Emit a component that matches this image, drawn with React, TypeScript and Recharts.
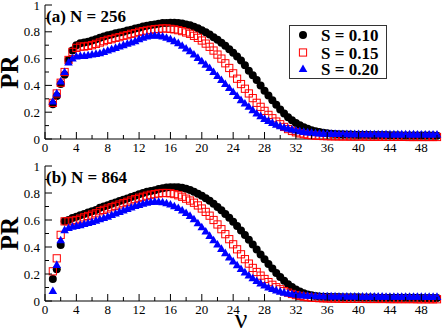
import React from 'react';
import { ScatterChart, Scatter, XAxis, YAxis, Legend } from 'recharts';

// ν values (x positions of the points)
const nu = [
  1, 1.5, 2, 2.5, 3, 3.5, 4, 4.5, 5, 5.5, 6, 6.5, 7, 7.5, 8, 8.5, 9, 9.5, 10, 10.5,
  11, 11.5, 12, 12.5, 13, 13.5, 14, 14.5, 15, 15.5, 16, 16.5, 17, 17.5, 18, 18.5, 19, 19.5, 20, 20.5,
  21, 21.5, 22, 22.5, 23, 23.5, 24, 24.5, 25, 25.5, 26, 26.5, 27, 27.5, 28, 28.5, 29, 29.5, 30, 30.5,
  31, 31.5, 32, 32.5, 33, 33.5, 34, 34.5, 35, 35.5, 36, 36.5, 37, 37.5, 38, 38.5, 39, 39.5, 40, 40.5,
  41, 41.5, 42, 42.5, 43, 43.5, 44, 44.5, 45, 45.5, 46, 46.5, 47, 47.5, 48, 48.5, 49, 49.5, 50,
];

// Panel (a) N = 256
const a_S010 = [
  0.26, 0.32, 0.41, 0.48, 0.59, 0.66, 0.70, 0.715,
  0.72, 0.725, 0.735, 0.745, 0.755, 0.765, 0.775, 0.78,
  0.79, 0.795, 0.80, 0.81, 0.815, 0.825, 0.83, 0.84,
  0.845, 0.85, 0.855, 0.86, 0.865, 0.865, 0.868, 0.868,
  0.866, 0.862, 0.855, 0.848, 0.838, 0.826, 0.812, 0.797,
  0.78, 0.76, 0.74, 0.718, 0.695, 0.67, 0.643, 0.615,
  0.585, 0.55, 0.51, 0.475, 0.44, 0.40, 0.36, 0.325,
  0.29, 0.255, 0.22, 0.19, 0.163, 0.14, 0.12, 0.102,
  0.088, 0.076, 0.066, 0.058,
  0.052, 0.047, 0.043, 0.040, 0.038, 0.036, 0.035, 0.034, 0.033, 0.032, 0.032, 0.031, 0.031, 0.030, 0.030, 0.029,
  0.029, 0.029, 0.028, 0.028, 0.028, 0.027, 0.027, 0.027, 0.027, 0.026, 0.026, 0.026, 0.026, 0.026, 0.025,
];
const a_S015 = [
  0.27, 0.34, 0.42, 0.50, 0.59, 0.65, 0.68, 0.69,
  0.69, 0.695, 0.70, 0.71, 0.72, 0.73, 0.74, 0.745,
  0.755, 0.76, 0.77, 0.775, 0.785, 0.79, 0.80, 0.805,
  0.81, 0.815, 0.82, 0.822, 0.825, 0.825, 0.822, 0.818,
  0.812, 0.805, 0.795, 0.785, 0.77, 0.755, 0.735, 0.712,
  0.688, 0.66, 0.63, 0.60, 0.565, 0.53, 0.49, 0.45,
  0.41, 0.375, 0.34, 0.305, 0.27, 0.24, 0.21, 0.18,
  0.155, 0.13, 0.11, 0.09, 0.074, 0.06, 0.05, 0.042,
  0.036, 0.031, 0.028, 0.025,
  0.023, 0.022, 0.021, 0.020, 0.020, 0.019, 0.019, 0.019, 0.018, 0.018, 0.018, 0.018, 0.017, 0.017, 0.017, 0.017,
  0.017, 0.016, 0.016, 0.016, 0.016, 0.016, 0.016, 0.015, 0.015, 0.015, 0.015, 0.015, 0.015, 0.015, 0.015,
];
const a_S020 = [
  0.28, 0.34, 0.43, 0.50, 0.57, 0.60, 0.615, 0.62,
  0.62, 0.625, 0.63, 0.635, 0.64, 0.65, 0.66, 0.67,
  0.68, 0.69, 0.70, 0.71, 0.72, 0.73, 0.745, 0.755,
  0.765, 0.77, 0.772, 0.77, 0.765, 0.755, 0.745, 0.73,
  0.715, 0.695, 0.675, 0.655, 0.63, 0.605, 0.58, 0.555,
  0.53, 0.50, 0.47, 0.44, 0.41, 0.38, 0.35, 0.32,
  0.29, 0.265, 0.24, 0.215, 0.19, 0.17, 0.15, 0.135,
  0.12, 0.107, 0.095, 0.085, 0.077, 0.07, 0.063, 0.058,
  0.053, 0.049, 0.046, 0.043,
  0.041, 0.040, 0.039, 0.038, 0.038, 0.037, 0.037, 0.036, 0.036, 0.036, 0.036, 0.035, 0.035, 0.035, 0.035, 0.035,
  0.035, 0.034, 0.034, 0.034, 0.034, 0.034, 0.034, 0.034, 0.034, 0.033, 0.033, 0.033, 0.033, 0.033, 0.033,
];

// Panel (b) N = 864
const b_S010 = [
  0.163, 0.235, 0.415, 0.59, 0.60, 0.615, 0.625, 0.635,
  0.645, 0.655, 0.665, 0.675, 0.69, 0.70, 0.71, 0.72,
  0.73, 0.74, 0.75, 0.76, 0.77, 0.78, 0.79, 0.80,
  0.81, 0.815, 0.82, 0.83, 0.835, 0.84, 0.842, 0.843,
  0.842, 0.838, 0.832, 0.822, 0.81, 0.795, 0.78, 0.762,
  0.742, 0.72, 0.697, 0.672, 0.645, 0.617, 0.587, 0.555,
  0.522, 0.488, 0.453, 0.418, 0.382, 0.345, 0.31, 0.275,
  0.24, 0.207, 0.177, 0.15, 0.125, 0.104, 0.085, 0.07,
  0.058, 0.049, 0.042, 0.037,
  0.034, 0.032, 0.031, 0.030, 0.029, 0.029, 0.028, 0.028, 0.027, 0.027, 0.027, 0.026, 0.026, 0.026, 0.026, 0.025,
  0.025, 0.025, 0.025, 0.025, 0.024, 0.024, 0.024, 0.024, 0.024, 0.024, 0.023, 0.023, 0.023, 0.023, 0.023,
];
const b_S015 = [
  0.22, 0.316, 0.49, 0.59, 0.59, 0.595, 0.60, 0.61,
  0.62, 0.63, 0.64, 0.65, 0.665, 0.675, 0.685, 0.695,
  0.705, 0.715, 0.725, 0.735, 0.745, 0.755, 0.765, 0.772,
  0.78, 0.787, 0.792, 0.797, 0.80, 0.80, 0.798, 0.792,
  0.783, 0.772, 0.758, 0.744, 0.728, 0.708, 0.685, 0.66,
  0.632, 0.60, 0.567, 0.532, 0.495, 0.458, 0.42, 0.383,
  0.346, 0.31, 0.277, 0.245, 0.215, 0.188, 0.163, 0.14,
  0.12, 0.102, 0.087, 0.073, 0.062, 0.052, 0.044, 0.038,
  0.032, 0.028, 0.025, 0.023,
  0.021, 0.020, 0.019, 0.018, 0.018, 0.017, 0.017, 0.017, 0.016, 0.016, 0.016, 0.016, 0.015, 0.015, 0.015, 0.015,
  0.015, 0.015, 0.014, 0.014, 0.014, 0.014, 0.014, 0.014, 0.014, 0.013, 0.013, 0.013, 0.013, 0.013, 0.013,
];
const b_S020 = [
  0.074, 0.267, 0.45, 0.525, 0.54, 0.55, 0.555, 0.562,
  0.57, 0.577, 0.585, 0.595, 0.605, 0.615, 0.625, 0.637,
  0.648, 0.66, 0.67, 0.682, 0.692, 0.703, 0.712, 0.72,
  0.728, 0.733, 0.736, 0.735, 0.731, 0.724, 0.714, 0.702,
  0.688, 0.671, 0.652, 0.63, 0.605, 0.576, 0.546, 0.515,
  0.482, 0.45, 0.418, 0.386, 0.354, 0.323, 0.293, 0.264,
  0.237, 0.212, 0.189, 0.168, 0.148, 0.13, 0.114, 0.10,
  0.088, 0.078, 0.069, 0.062, 0.056, 0.051, 0.047, 0.043,
  0.04, 0.038, 0.037, 0.036,
  0.035, 0.035, 0.034, 0.034, 0.034, 0.033, 0.033, 0.033, 0.033, 0.033, 0.032, 0.032, 0.032, 0.032, 0.032, 0.032,
  0.032, 0.031, 0.031, 0.031, 0.031, 0.031, 0.031, 0.031, 0.031, 0.031, 0.031, 0.030, 0.030, 0.030, 0.030,
];

const xTicks = [0, 2, 4, 6, 8, 10, 12, 14, 16, 18, 20, 22, 24, 26, 28, 30, 32, 34, 36, 38, 40, 42, 44, 46, 48, 50];
const xTickLabels = [0, 4, 8, 12, 16, 20, 24, 28, 32, 36, 40, 44, 48];
const yTicks = [0, 0.1, 0.2, 0.3, 0.4, 0.5, 0.6, 0.7, 0.8, 0.9, 1];
const yTickLabels = ['0', '0.2', '0.4', '0.6', '0.8', '1'];
const legendLabels = ['S = 0.10', 'S = 0.15', 'S = 0.20'];
const panelTitles = ['(a) N = 256', '(b) N = 864'];
const yAxisTitle = 'PR';
const xAxisTitle = 'ν';

const FONT = '"Liberation Serif", "Times New Roman", serif';
const X_MARGIN = 9;
const Y_MARGIN = 5;

const toPoints = (ys: number[]) => nu.map((x, i) => ({ x, y: ys[i] }));

const Circle = (p: any) => <circle cx={p.cx} cy={p.cy} r={4} fill="#000" />;
const Square = (p: any) => (
  <rect x={p.cx - 3.6} y={p.cy - 3.6} width={7.2} height={7.2} fill="none" stroke="#ff0000" strokeWidth={1} />
);
const Triangle = (p: any) => (
  <polygon
    points={`${p.cx},${p.cy - 4.6} ${p.cx - 4.3},${p.cy + 3} ${p.cx + 4.3},${p.cy + 3}`}
    fill="#0000ff"
  />
);

const XTick = (props: any) => {
  const { x, y, payload } = props;
  const axisY = y - X_MARGIN;
  const v = payload.value;
  const major = xTickLabels.indexOf(v) >= 0;
  return (
    <g>
      <line x1={x} x2={x} y1={axisY} y2={axisY - (major ? 7 : 4)} stroke="#000" strokeWidth={1} />
      {major && (
        <text x={x} y={axisY + 13} textAnchor="middle" fontSize={13} fontFamily={FONT} fill="#000">
          {v}
        </text>
      )}
    </g>
  );
};

const YTick = (props: any) => {
  const { x, y, payload } = props;
  const axisX = x + Y_MARGIN;
  const v = payload.value;
  const label = String(Number(v.toFixed(1)));
  const major = yTickLabels.indexOf(label) >= 0;
  return (
    <g>
      <line x1={axisX} x2={axisX + (major ? 7 : 4)} y1={y} y2={y} stroke="#000" strokeWidth={1} />
      {major && (
        <text x={x} y={y + 4.5} textAnchor="end" fontSize={13} fontFamily={FONT} fill="#000">
          {label}
        </text>
      )}
    </g>
  );
};

const LegendBox = () => {
  const rows = [10, 27.5, 44];
  return (
    <svg width={98} height={54} style={{ display: 'block' }}>
      <rect x={0.5} y={0.5} width={97} height={53} fill="#fff" stroke="#333" strokeWidth={1} />
      <Circle cx={14} cy={rows[0]} />
      <Square cx={14} cy={rows[1]} />
      <Triangle cx={14} cy={rows[2]} />
      {legendLabels.map((t, i) => (
        <text key={t} x={32} y={rows[i] + 6} fontSize={17} fontWeight="bold" fontFamily={FONT} fill="#000">
          {t}
        </text>
      ))}
    </svg>
  );
};

type PanelProps = {
  height: number;
  top: number;
  xHeight: number;
  title: string;
  s10: number[];
  s15: number[];
  s20: number[];
  legend: boolean;
  xTitle: boolean;
};

const Panel = ({ height, top, xHeight, title, s10, s15, s20, legend, xTitle }: PanelProps) => (
  <ScatterChart width={443} height={height} margin={{ top, right: 6, left: 0, bottom: 0 }}>
    <XAxis
      dataKey="x"
      type="number"
      domain={[0, 50]}
      ticks={xTicks}
      interval={0}
      height={xHeight}
      tickSize={0}
      tickMargin={X_MARGIN}
      tickLine={false}
      tick={<XTick />}
      axisLine={{ stroke: '#000', strokeWidth: 1 }}
      label={
        xTitle
          ? {
              content: (p: any) => (
                <text
                  x={p.viewBox.x + p.viewBox.width / 2}
                  y={p.viewBox.y + 27}
                  textAnchor="middle"
                  fontSize={28}
                  fontFamily={FONT}
                  fill="#000"
                >
                  {xAxisTitle}
                </text>
              ),
            }
          : undefined
      }
    />
    <XAxis
      xAxisId="top"
      orientation="top"
      type="number"
      domain={[0, 50]}
      height={0}
      tick={false}
      tickLine={false}
      axisLine={{ stroke: '#000', strokeWidth: 1 }}
    />
    <YAxis
      dataKey="y"
      type="number"
      domain={[0, 1]}
      ticks={yTicks}
      interval={0}
      width={45}
      tickSize={0}
      tickMargin={Y_MARGIN}
      tickLine={false}
      tick={<YTick />}
      axisLine={{ stroke: '#000', strokeWidth: 1 }}
      label={{
        content: (p: any) => {
          const cx = 18;
          const cy = p.viewBox.y + p.viewBox.height / 2;
          return (
            <g>
              <text
                x={cx}
                y={cy}
                transform={`rotate(-90, ${cx}, ${cy})`}
                textAnchor="middle"
                fontSize={25}
                fontWeight="bold"
                fontFamily={FONT}
                fill="#000"
              >
                {yAxisTitle}
              </text>
              <text
                x={p.viewBox.x + p.viewBox.width + 1}
                y={p.viewBox.y + 17}
                fontSize={17}
                fontWeight="bold"
                fontFamily={FONT}
                fill="#000"
              >
                {title}
              </text>
            </g>
          );
        },
      }}
    />
    <YAxis
      yAxisId="right"
      orientation="right"
      type="number"
      domain={[0, 1]}
      width={0}
      tick={false}
      tickLine={false}
      axisLine={{ stroke: '#000', strokeWidth: 1 }}
    />
    {legend && (
      <Legend
        layout="vertical"
        align="center"
        verticalAlign="middle"
        wrapperStyle={{ position: 'absolute', left: 289, top: 25, width: 98, height: 54 }}
        content={() => <LegendBox />}
      />
    )}
    <Scatter name={legendLabels[0]} data={toPoints(s10)} shape={Circle} isAnimationActive={false} />
    <Scatter name={legendLabels[1]} data={toPoints(s15)} shape={Square} isAnimationActive={false} />
    <Scatter name={legendLabels[2]} data={toPoints(s20)} shape={Triangle} isAnimationActive={false} />
  </ScatterChart>
);

export default function App() {
  return (
    <div style={{ position: 'fixed', left: 0, top: 0, width: 443, height: 332, background: '#fff', overflow: 'hidden' }}>
      <div style={{ position: 'absolute', left: 0, top: 0 }}>
        <Panel
          height={160}
          top={5}
          xHeight={21}
          title={panelTitles[0]}
          s10={a_S010}
          s15={a_S015}
          s20={a_S020}
          legend={true}
          xTitle={false}
        />
      </div>
      <div style={{ position: 'absolute', left: 0, top: 150 }}>
        <Panel
          height={182}
          top={16}
          xHeight={31}
          title={panelTitles[1]}
          s10={b_S010}
          s15={b_S015}
          s20={b_S020}
          legend={false}
          xTitle={true}
        />
      </div>
    </div>
  );
}
